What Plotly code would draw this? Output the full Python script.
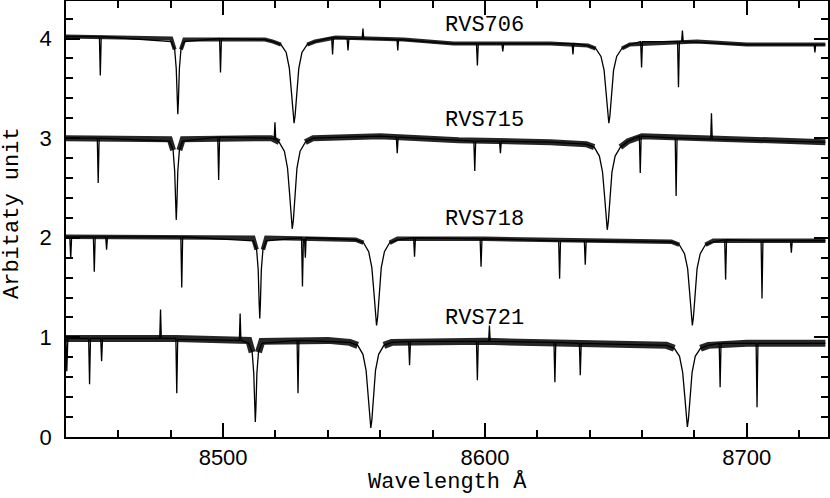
import plotly.graph_objects as go

# ---------------- data ----------------
star_names = ["RVS706", "RVS715", "RVS718", "RVS721"]
label_x = [8600.0, 8600.0, 8600.0, 8600.0]
label_y = [4.13, 3.18, 2.18, 1.19]

# RVS706 (offset 4)
wl_706 = [8440.0, 8452.75, 8453.1, 8453.45, 8480.2, 8481.5, 8482.1, 8482.45, 8482.7, 8482.95, 8483.3, 8483.9, 8485.2,
          8498.65, 8499.0, 8499.35, 8516.0, 8519.1, 8522.1, 8524.1, 8525.3, 8526.1, 8526.7, 8527.1, 8527.5, 8528.1,
          8528.9, 8530.1, 8532.1, 8535.1, 8541.45, 8541.8, 8542.15, 8547.35, 8547.7, 8548.05, 8553.1, 8553.4, 8553.7,
          8566.4, 8566.7, 8567.0, 8588.0, 8596.75, 8597.1, 8597.45, 8606.45, 8606.8, 8607.15, 8633.25, 8633.6, 8633.95,
          8639.3, 8642.3, 8644.3, 8645.5, 8646.3, 8646.9, 8647.3, 8647.7, 8648.3, 8649.1, 8650.3, 8652.3, 8655.3,
          8659.45, 8659.8, 8660.15, 8673.55, 8673.9, 8674.25, 8675.1, 8675.4, 8675.7, 8700.0, 8725.7, 8726.0, 8726.3,
          8730.0]
fl_706 = [4.02, 4.02, 3.63, 4.02, 3.97, 3.89, 3.70, 3.39, 3.24, 3.39, 3.70, 3.89, 3.97,
          4.00, 3.66, 4.00, 3.99, 3.97, 3.94, 3.86, 3.70, 3.46, 3.23, 3.15, 3.23, 3.46,
          3.70, 3.86, 3.94, 3.97, 4.01, 3.84, 4.01, 4.00, 3.88, 4.00, 4.00, 4.10, 4.00,
          3.99, 3.88, 3.99, 3.95, 3.95, 3.73, 3.95, 3.95, 3.87, 3.95, 3.95, 3.84, 3.95,
          3.93, 3.90, 3.82, 3.68, 3.45, 3.22, 3.15, 3.22, 3.45, 3.68, 3.82, 3.90, 3.94,
          3.97, 3.71, 3.97, 3.97, 3.51, 3.97, 3.97, 4.08, 3.97, 3.94, 3.94, 3.86, 3.94,
          3.94]

# RVS715 (offset 3)
wl_715 = [8440.0, 8451.95, 8452.3, 8452.65, 8479.6, 8480.9, 8481.5, 8481.85, 8482.1, 8482.35, 8482.7, 8483.3, 8484.6,
          8497.95, 8498.3, 8498.65, 8518.4, 8519.5, 8519.8, 8520.1, 8521.4, 8523.4, 8524.6, 8525.4, 8526.0, 8526.4,
          8526.8, 8527.4, 8528.2, 8529.4, 8531.4, 8534.4, 8560.0, 8566.15, 8566.5, 8566.85, 8590.0, 8595.75, 8596.1,
          8596.45, 8605.55, 8605.9, 8606.25, 8625.0, 8638.7, 8641.7, 8643.7, 8644.9, 8645.7, 8646.3, 8646.7, 8647.1,
          8647.7, 8648.5, 8649.7, 8651.7, 8654.7, 8658.95, 8659.3, 8659.65, 8672.65, 8673.0, 8673.35, 8686.2, 8686.5,
          8686.8, 8700.0, 8730.0]
fl_715 = [3.00, 3.00, 2.55, 3.00, 2.97, 2.88, 2.67, 2.34, 2.18, 2.34, 2.67, 2.88, 2.97,
          3.01, 2.58, 3.01, 3.00, 2.99, 3.16, 2.99, 2.96, 2.87, 2.70, 2.44, 2.17, 2.09,
          2.17, 2.44, 2.70, 2.87, 2.96, 3.00, 3.02, 3.01, 2.85, 3.01, 2.98, 2.97, 2.67,
          2.97, 2.97, 2.85, 2.97, 2.96, 2.94, 2.91, 2.82, 2.66, 2.41, 2.16, 2.08, 2.16,
          2.41, 2.66, 2.82, 2.91, 2.97, 3.02, 2.65, 3.02, 3.00, 2.42, 3.00, 2.99, 3.25,
          2.99, 2.98, 2.96]

# RVS718 (offset 2)
wl_718 = [8440.0, 8441.45, 8441.8, 8442.15, 8450.45, 8450.8, 8451.15, 8455.15, 8455.5, 8455.85, 8483.85, 8484.2, 8484.55,
          8511.5, 8512.8, 8513.4, 8513.75, 8514.0, 8514.25, 8514.6, 8515.2, 8516.5, 8529.95, 8530.3, 8530.65, 8531.1,
          8531.4, 8531.7, 8550.6, 8553.6, 8555.6, 8556.8, 8557.6, 8558.2, 8558.6, 8559.0, 8559.6, 8560.4, 8561.6,
          8563.6, 8566.6, 8572.75, 8573.1, 8573.45, 8598.15, 8598.5, 8598.85, 8628.15, 8628.5, 8628.85, 8637.95, 8638.3,
          8638.65, 8671.2, 8674.2, 8676.2, 8677.4, 8678.2, 8678.8, 8679.2, 8679.6, 8680.2, 8681.0, 8682.2, 8684.2,
          8687.2, 8691.55, 8691.9, 8692.25, 8705.45, 8705.8, 8706.15, 8716.65, 8717.0, 8717.35, 8730.0]
fl_718 = [2.01, 2.01, 1.79, 2.01, 2.01, 1.66, 2.01, 2.01, 1.88, 2.01, 2.01, 1.50, 2.01,
          1.97, 1.88, 1.68, 1.35, 1.19, 1.35, 1.68, 1.88, 1.97, 2.00, 1.51, 1.98, 1.98,
          1.80, 2.00, 1.98, 1.95, 1.86, 1.70, 1.45, 1.20, 1.12, 1.20, 1.45, 1.70, 1.86,
          1.95, 1.98, 2.00, 1.81, 2.00, 1.99, 1.71, 1.99, 1.97, 1.59, 1.97, 1.97, 1.73,
          1.97, 1.96, 1.93, 1.84, 1.69, 1.44, 1.20, 1.12, 1.20, 1.44, 1.69, 1.84, 1.93,
          1.96, 1.98, 1.58, 1.98, 1.97, 1.39, 1.97, 1.97, 1.85, 1.97, 1.97]

# RVS721 (offset 1)
wl_721 = [8440.0, 8440.3, 8440.7, 8448.65, 8449.0, 8449.35, 8453.25, 8453.6, 8453.95, 8475.8, 8476.1, 8476.4,
          8481.95, 8482.3, 8482.65, 8506.2, 8506.5, 8506.8, 8509.8, 8511.1, 8511.7, 8512.05, 8512.3, 8512.55, 8512.9,
          8513.5, 8514.8, 8528.25, 8528.6, 8528.95, 8548.4, 8551.4, 8553.4, 8554.6, 8555.4, 8556.0, 8556.4, 8556.8,
          8557.4, 8558.2, 8559.4, 8561.4, 8564.4, 8570.85, 8571.2, 8571.55, 8596.75, 8597.1, 8597.45, 8601.4, 8601.7,
          8602.0, 8626.35, 8626.7, 8627.05, 8636.05, 8636.4, 8636.75, 8669.3, 8672.3, 8674.3, 8675.5, 8676.3, 8676.9,
          8677.3, 8677.7, 8678.3, 8679.1, 8680.3, 8682.3, 8685.3, 8689.45, 8689.8, 8690.15, 8703.55, 8703.9, 8704.25,
          8730.0]
fl_721 = [0.99, 0.66, 0.99, 0.99, 0.53, 0.99, 0.99, 0.76, 0.99, 0.99, 1.28, 0.99,
          0.99, 0.44, 0.98, 0.97, 1.24, 0.97, 0.94, 0.85, 0.64, 0.31, 0.15, 0.31, 0.64,
          0.85, 0.94, 0.97, 0.44, 0.97, 0.95, 0.92, 0.83, 0.67, 0.42, 0.17, 0.09, 0.17,
          0.42, 0.67, 0.83, 0.92, 0.95, 0.96, 0.72, 0.96, 0.96, 0.57, 0.96, 0.96, 1.12,
          0.96, 0.95, 0.55, 0.95, 0.94, 0.62, 0.94, 0.92, 0.89, 0.81, 0.65, 0.41, 0.18,
          0.10, 0.18, 0.41, 0.65, 0.81, 0.89, 0.92, 0.94, 0.50, 0.94, 0.94, 0.30, 0.94,
          0.94]

# continuum level (with noise envelope) outside the strong lines
cwl_706 = [8440, 8480.2, 8481.5, None, 8483.9, 8485.2, 8516, 8519.1, 8522.1, None, 8532.1, 8535.1, 8543, 8569,
           8588, 8625, 8639.3, 8642.3, None, 8652.3, 8655.3, 8681, 8700, 8730]
cfl_706 = [4.02, 4.00, 3.89, None, 3.89, 3.99, 3.99, 3.97, 3.94, None, 3.94, 3.97, 4.01, 3.99,
           3.95, 3.95, 3.93, 3.90, None, 3.90, 3.94, 3.97, 3.94, 3.94]
cwl_715 = [8440, 8479.6, 8480.9, None, 8483.3, 8484.6, 8518.4, 8521.4, None, 8531.4, 8534.4, 8560, 8590, 8625,
           8638.7, 8641.7, None, 8651.7, 8654.7, 8660, 8700, 8730]
cfl_715 = [3.00, 2.99, 2.88, None, 2.88, 2.99, 3.00, 2.96, None, 2.96, 3.00, 3.02, 2.98, 2.96,
           2.94, 2.91, None, 2.91, 2.97, 3.02, 2.98, 2.96]
cwl_718 = [8440, 8511.5, 8512.8, None, 8515.2, 8516.5, 8550.6, 8553.6, None, 8563.6, 8566.6, 8600, 8640, 8671.2,
           8674.2, None, 8684.2, 8687.2, 8730]
cfl_718 = [2.01, 2.00, 1.88, None, 1.88, 2.00, 1.98, 1.95, None, 1.95, 1.99, 1.99, 1.97, 1.96,
           1.93, None, 1.93, 1.97, 1.97]
cwl_721 = [8440, 8482, 8509.8, 8511.1, None, 8513.5, 8514.8, 8540, 8548.4, 8551.4, None, 8561.4, 8564.4, 8600,
           8640, 8669.3, 8672.3, None, 8682.3, 8685.3, 8700, 8730]
cfl_721 = [0.99, 0.99, 0.97, 0.85, None, 0.85, 0.96, 0.97, 0.95, 0.92, None, 0.92, 0.95, 0.96,
           0.94, 0.92, 0.89, None, 0.89, 0.92, 0.94, 0.94]
noise_px = [4, 6, 4.5, 7]

x_range = [8440, 8731]
y_range = [0, 4.377]
x_title = "Wavelength Å"
y_title = "Arbitaty unit"

# ---------------- figure ----------------
spectra = [(wl_706, fl_706), (wl_715, fl_715), (wl_718, fl_718), (wl_721, fl_721)]
conts = [(cwl_706, cfl_706), (cwl_715, cfl_715), (cwl_718, cfl_718), (cwl_721, cfl_721)]

fig = go.Figure()
for (cw, cf), w in zip(conts, noise_px):
    fig.add_trace(go.Scatter(x=cw, y=cf, mode="lines", connectgaps=False,
                             line=dict(color="rgba(0,0,0,0.85)", width=w), hoverinfo="skip"))
for name, (wl, fl) in zip(star_names, spectra):
    fig.add_trace(go.Scatter(x=wl, y=fl, mode="lines", name=name,
                             line=dict(color="black", width=1.3)))

for name, lx, ly in zip(star_names, label_x, label_y):
    fig.add_annotation(x=lx, y=ly, text=name, showarrow=False, xanchor="center", yanchor="middle",
                       font=dict(family="Liberation Mono", size=22, color="black"))

# axis titles placed as paper annotations
fig.add_annotation(xref="paper", yref="paper", x=0.5, y=0, yshift=-45, text=x_title, showarrow=False,
                   xanchor="center", yanchor="middle",
                   font=dict(family="Liberation Mono", size=22, color="black"))
fig.add_annotation(xref="paper", yref="paper", x=0, y=0.5, xshift=-54, yshift=6, text=y_title, showarrow=False,
                   textangle=-90, xanchor="center", yanchor="middle",
                   font=dict(family="Liberation Mono", size=22, color="black"))

axis_common = dict(showline=True, linecolor="black", linewidth=1.5, mirror="allticks",
                   ticks="inside", tickcolor="black", tickwidth=1.5, ticklen=14,
                   showgrid=False, zeroline=False, automargin=False,
                   tickfont=dict(family="Liberation Sans", size=22, color="black"))

fig.update_xaxes(range=x_range, dtick=100, tick0=8400,
                 minor=dict(ticks="inside", ticklen=7, dtick=20, tickcolor="black", tickwidth=1.5, showgrid=False),
                 **axis_common)
fig.update_yaxes(range=y_range, dtick=1, tick0=0, ticklabelstandoff=8,
                 minor=dict(ticks="inside", ticklen=7, dtick=0.2, tickcolor="black", tickwidth=1.5, showgrid=False),
                 **axis_common)

fig.update_layout(width=830, height=498, margin=dict(l=66, r=2, t=1, b=61),
                  plot_bgcolor="white", paper_bgcolor="white", showlegend=False)

fig.write_html("out.html", config={"displayModeBar": False},
               post_script="document.body.style.margin='0px';")
